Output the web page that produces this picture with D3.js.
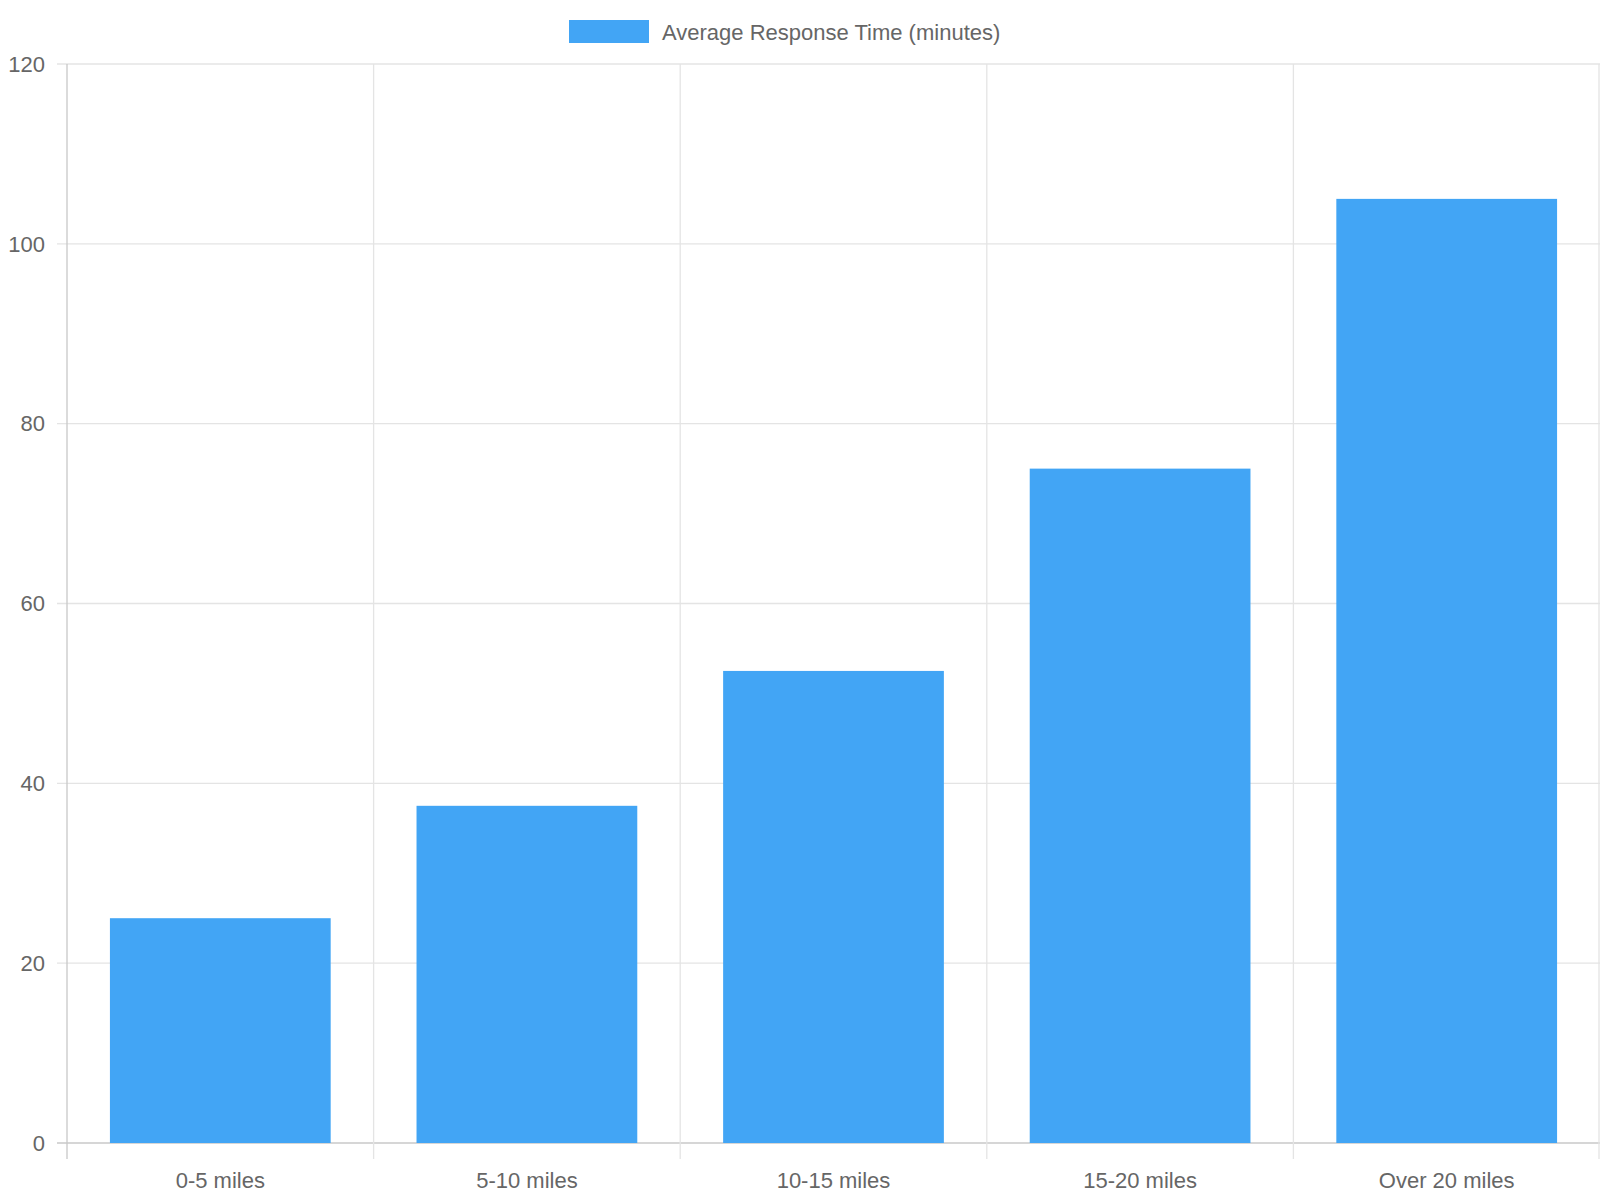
<!DOCTYPE html>
<html>
<head>
<script src="https://d3js.org/d3.v7.min.js"></script>
<style>
  body { margin: 0; background: #fff; }
  text { font-family: "Liberation Sans", Arial, sans-serif; fill: #666; }
</style>
</head>
<body>
<svg id="chart" width="1600" height="1200"></svg>
<script>
const categories = ["0-5 miles", "5-10 miles", "10-15 miles", "15-20 miles", "Over 20 miles"];
const responseTimes = [25, 37.5, 52.5, 75, 105];
const yTicks = [0, 20, 40, 60, 80, 100, 120];
const seriesName = "Average Response Time (minutes)";

const svg = d3.select("#chart");
const m = { left: 67, right: 1600, top: 64, bottom: 1143 };

const x = d3.scaleBand().domain(categories).range([m.left, m.right]).paddingInner(0).paddingOuter(0);
const y = d3.scaleLinear().domain([0, 120]).range([m.bottom, m.top]);

// horizontal grid
svg.append("g").selectAll("line").data(yTicks).join("line")
  .attr("x1", m.left - 10).attr("x2", m.right)
  .attr("y1", d => y(d)).attr("y2", d => y(d))
  .attr("stroke", d => d === 0 ? "#c8c8c8" : "#e4e4e4").attr("stroke-width", 1.3);

// vertical grid
const vx = categories.map(c => x(c)).concat([m.right - 1]);
svg.append("g").selectAll("line").data(vx).join("line")
  .attr("x1", d => d).attr("x2", d => d)
  .attr("y1", m.top).attr("y2", m.bottom + 16)
  .attr("stroke", (d, i) => i === 0 ? "#c8c8c8" : "#e4e4e4").attr("stroke-width", 1.3);

// bars
const bw = x.bandwidth() * 0.72;
svg.append("g").selectAll("rect").data(responseTimes).join("rect")
  .attr("x", (d, i) => x(categories[i]) + (x.bandwidth() - bw) / 2)
  .attr("width", bw)
  .attr("y", d => y(d))
  .attr("height", d => y(0) - y(d))
  .attr("fill", "#42A5F5");

// y labels
svg.append("g").selectAll("text").data(yTicks).join("text")
  .attr("x", m.left - 22).attr("y", d => y(d)).attr("dy", "0.35em")
  .attr("text-anchor", "end").attr("font-size", 22).text(d => d);

// x labels
svg.append("g").selectAll("text").data(categories).join("text")
  .attr("x", d => x(d) + x.bandwidth() / 2).attr("y", 1188)
  .attr("text-anchor", "middle").attr("font-size", 22).text(d => d);

// legend
const lg = svg.append("g");
lg.append("rect").attr("x", 569).attr("y", 20).attr("width", 80).attr("height", 23).attr("fill", "#42A5F5");
lg.append("text").attr("x", 662).attr("y", 32).attr("dy", "0.35em").attr("font-size", 22).text(seriesName);
</script>
</body>
</html>
